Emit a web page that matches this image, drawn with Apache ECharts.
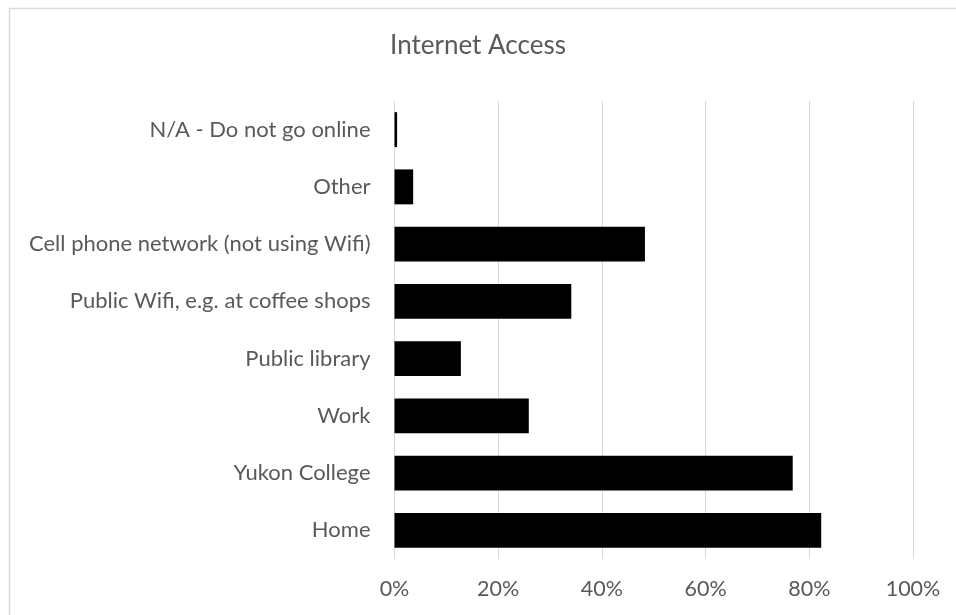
<!DOCTYPE html>
<html>
<head>
<meta charset="utf-8">
<script src="https://cdn.jsdelivr.net/npm/echarts@6/dist/echarts.min.js"></script>
<style>
  html, body { margin: 0; padding: 0; background: #fff; }
  #chart { width: 956px; height: 615px; }
</style>
</head>
<body>
<div id="chart"></div>
<script>
// Where respondents go online (share of respondents), listed top to bottom
const categories = [
  'N/A - Do not go online',
  'Other',
  'Cell phone network (not using Wifi)',
  'Public Wifi, e.g. at coffee shops',
  'Public library',
  'Work',
  'Yukon College',
  'Home'
];
const shares = [0.005, 0.036, 0.483, 0.341, 0.128, 0.259, 0.768, 0.823];
const tickValues = [0, 0.2, 0.4, 0.6, 0.8, 1];

const FONT = 'Lato, "Open Sans", sans-serif';
const TEXT = '#595959';

const chart = echarts.init(document.getElementById('chart'), null, { renderer: 'canvas' });

chart.setOption({
  animation: false,
  backgroundColor: '#ffffff',
  title: {
    text: 'Internet Access',
    left: 'center',
    top: 28,
    textStyle: { fontFamily: FONT, fontSize: 26, fontWeight: 'normal', color: TEXT }
  },
  graphic: [{
    type: 'rect',
    shape: { x: 9.5, y: 8.5, width: 1000, height: 700 },
    style: { fill: 'none', stroke: '#d9d9d9', lineWidth: 1.5 },
    silent: true
  }],
  grid: { left: 394.5, right: 43, top: 101, bottom: 56, containLabel: false },
  xAxis: {
    type: 'value',
    min: tickValues[0],
    max: tickValues[tickValues.length - 1],
    interval: tickValues[1] - tickValues[0],
    axisLine: { show: false },
    axisTick: { show: false },
    splitLine: { show: true, lineStyle: { color: '#d9d9d9', width: 1 } },
    axisLabel: {
      margin: 19,
      fontFamily: FONT,
      fontSize: 21.5,
      color: TEXT,
      formatter: v => Math.round(v * 100) + '%'
    }
  },
  yAxis: {
    type: 'category',
    inverse: true,
    data: categories,
    axisLine: { show: false },
    axisTick: { show: false },
    splitLine: { show: false },
    axisLabel: { margin: 24, fontFamily: FONT, fontSize: 22, color: TEXT }
  },
  series: [{
    type: 'bar',
    data: shares,
    barCategoryGap: '39%',
    itemStyle: { color: '#000000' }
  }]
});
</script>
</body>
</html>
